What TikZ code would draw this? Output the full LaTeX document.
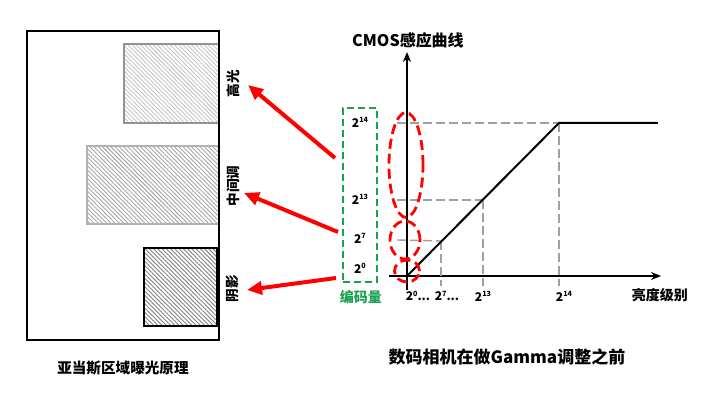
\documentclass[tikz,border=0pt]{standalone}
\usepackage{fontspec}
\setmainfont{Noto Sans CJK SC}
\usetikzlibrary{arrows.meta,patterns.meta,shapes.geometric}
\definecolor{myred}{HTML}{FF0000}
\definecolor{mygreen}{HTML}{1AA050}
\definecolor{guide}{HTML}{A0A0A0}
\newcommand{\pw}[1]{2\raisebox{2.4pt}{\fontsize{3.6}{3.6}\selectfont #1}}
\tikzset{
  txt/.style={inner sep=0pt, font=\bfseries\fontsize{#1}{#1}\selectfont},
  sidelabel/.style={txt=6.8, rotate=90},
  ticklabel/.style={txt=6},
  redarrow/.style={draw=myred, line width=2pt, -{Triangle[length=7.5pt,width=6.5pt]}},
  redell/.style={ellipse, draw=myred, line width=1.4pt, dash pattern=on 5pt off 2.5pt, inner sep=0pt},
  guideline/.style={draw=guide, line width=0.7pt, dash pattern=on 4.5pt off 2pt},
  axis/.style={draw=black, line width=1pt},
  hatchbox/.style 2 args={draw=#1, line width=1pt, pattern={Lines[angle=-45,distance=1.5pt,line width=0.45pt]}, pattern color=#2},
}
\begin{document}
\begin{tikzpicture}[x=0.5pt,y=-0.5pt]
\useasboundingbox[fill=white] (0,0) rectangle (720,405);

% left panel
\draw[line width=1pt] (27,31) rectangle (219,340);
\draw[hatchbox={gray!85}{gray!45}] (124,44) rectangle (219,123);
\draw[hatchbox={gray!140!black}{gray!70}] (87,146) rectangle (219,224);
\draw[hatchbox={black}{gray}, line width=1.3pt] (144,248) rectangle (217,326);
\draw[line width=1pt] (219,31) -- (219,340);

\node[sidelabel] (hl) at (233,84) {高光};
\node[sidelabel] (mt) at (233,186) {中间调};
\node[sidelabel] (sh) at (233,289) {阴影};

\node[txt=7.3] (capl) at (123,368) {亚当斯区域曝光原理};

% arrows
\coordinate (a1s) at (335,158); \coordinate (a1e) at (248,85);
\coordinate (a2s) at (338,232); \coordinate (a2e) at (244,193);
\coordinate (a3s) at (336,278); \coordinate (a3e) at (247,290);
\draw[redarrow] (a1s) -- (a1e);
\draw[redarrow] (a2s) -- (a2e);
\draw[redarrow] (a3s) -- (a3e);

% green code box
\node[draw=mygreen, line width=1.1pt, dash pattern=on 3.5pt off 2pt, minimum width=17pt, minimum height=87pt, inner sep=0pt] (code) at (360,195) {};
\node[ticklabel] (c14) at (360,122) {\pw{14}};
\node[ticklabel] (c13) at (360,199) {\pw{13}};
\node[ticklabel] (c7) at (360,238) {\pw{7}};
\node[ticklabel] (c0) at (360,268) {\pw{0}};
\node[txt=7, text=mygreen] (codelbl) at (361,297) {编码量};

% axes
\coordinate (O) at (407,276);
\coordinate (ybot) at (407,290);
\coordinate (ytop) at (407,52);
\coordinate (xl) at (389,276);
\coordinate (xr) at (661,276);
\draw[axis, -{Stealth[length=5pt,width=4pt]}] (ybot) -- (ytop);
\draw[axis, -{Stealth[length=5pt,width=4pt]}] (xl) -- (xr);
\node[txt=8] (title) at (408,40) {CMOS感应曲线};
\node[txt=7] (xlabel) at (660,295) {亮度级别};

% guide points
\coordinate (p7) at (441,241);
\coordinate (p13) at (483,200);
\coordinate (p14) at (559,123);
\coordinate (end) at (658,123);

% dashed guides
\draw[guideline] (397,123) -- (p14);
\draw[guideline] (397,200) -- (p13);
\draw[guideline] (397,240) -- (p7);
\draw[guideline] (p7) -- (441,286);
\draw[guideline] (p13) -- (483,286);
\draw[guideline] (p14) -- (559,286);

% curve
\draw[line width=1pt] (O) -- (p14) -- (end);

% x tick labels
\node[ticklabel] (x0) at (418,296) {\pw{0}...};
\node[ticklabel] (x7) at (447,296) {\pw{7}...};
\node[ticklabel] (x13) at (483,296) {\pw{13}};
\node[ticklabel] (x14) at (564,296) {\pw{14}};

% red ellipses
\node[redell, minimum width=17pt, minimum height=52.5pt] (e1) at (406,165) {};
\node[redell, minimum width=15pt, minimum height=19pt] (e2) at (405,240) {};
\node[redell, minimum width=12.5pt, minimum height=11pt] (e3) at (407,271) {};

\node[txt=8.5] (capr) at (507,357) {数码相机在做Gamma调整之前};
\end{tikzpicture}
\end{document}
